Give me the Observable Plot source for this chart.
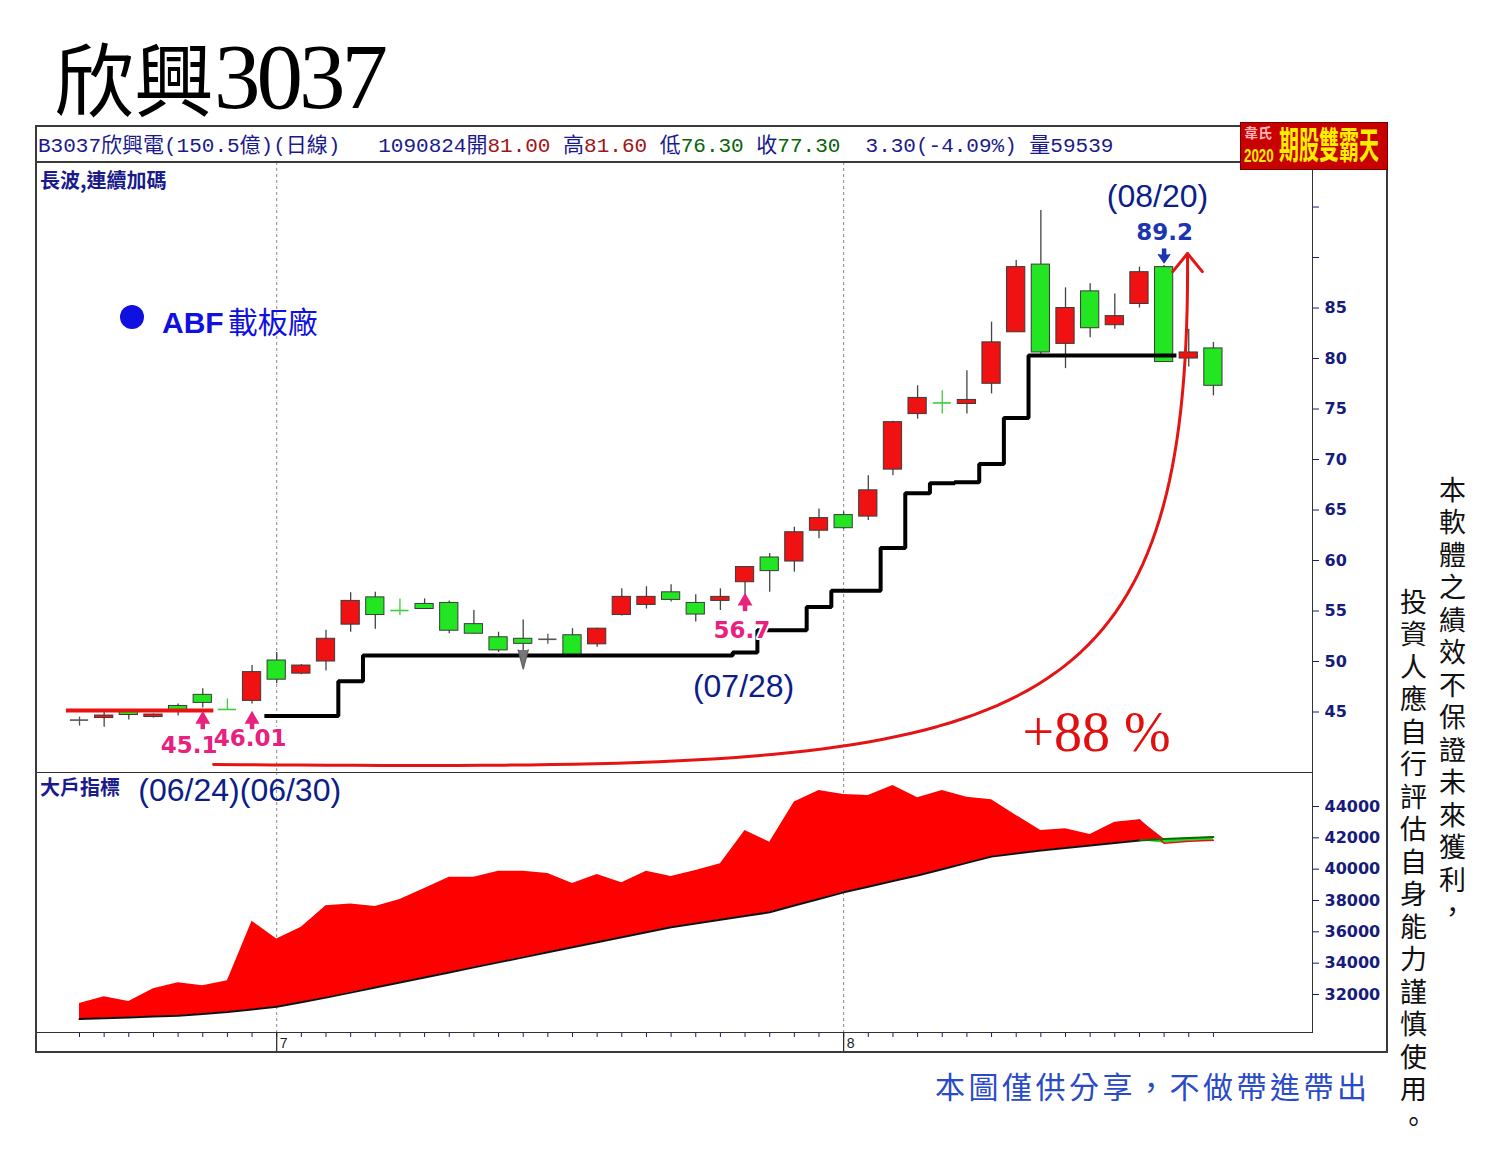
<!DOCTYPE html>
<html><head><meta charset="utf-8">
<script src="https://cdn.jsdelivr.net/npm/d3@7"></script>
<script src="https://cdn.jsdelivr.net/npm/@observablehq/plot@0.6"></script>
<style>
html,body{margin:0;padding:0;background:#fff;}
#page{position:relative;width:1486px;height:1162px;overflow:hidden;background:#fff;font-family:"Noto Sans CJK TC",sans-serif;}
.abs{position:absolute;white-space:nowrap;}
.vt{writing-mode:vertical-rl;font-size:27px;line-height:27px;letter-spacing:5.5px;color:#111;font-family:"Noto Sans CJK TC";}
</style></head>
<body><div id="page">
<div id="plots"></div>
<div class="abs" style="left:35px;top:125px;width:1353px;height:928px;border:2px solid #3a3a3a;box-sizing:border-box;"></div>
<div class="abs" style="left:35px;top:161px;width:1353px;height:2px;background:#3a3a3a;"></div>
<div class="abs" style="left:54px;top:35px;font-size:80px;line-height:80px;color:#000;">欣興</div>
<div class="abs" style="left:214px;top:30px;font-family:'Liberation Serif';font-size:93px;line-height:93px;letter-spacing:-4px;color:#000;">3037</div>
<div class="abs" id="hdr" style="left:38px;top:136px;font-family:'Liberation Mono','Noto Sans CJK TC';font-size:21px;line-height:21px;white-space:pre;color:#1a1a8c;"></div>
<div class="abs" style="left:1240px;top:122px;width:148px;height:48px;background:#c80000;border:1px solid #700;box-sizing:border-box;"></div>
<div class="abs" style="left:1244px;top:125px;font-weight:bold;font-size:14px;line-height:14px;color:#ffb3b3;">韋氏</div>
<div class="abs" style="left:1244px;top:146px;font-family:'Liberation Sans Narrow','Liberation Sans';font-weight:bold;font-size:14px;line-height:14px;color:#ffee00;transform:scale(0.95,1.35);transform-origin:top left;">2020</div>
<div class="abs" style="left:1279px;top:126px;font-weight:bold;font-size:20px;line-height:20px;color:#ffee00;transform:scaleY(1.85);transform-origin:top left;">期股雙霸天</div>
<div class="abs" style="left:40px;top:170px;font-weight:bold;font-size:20px;line-height:20px;color:#1a1a8c;">長波,連續加碼</div>
<div class="abs" style="left:120px;top:305px;width:24px;height:24px;border-radius:50%;background:#1010e0;"></div>
<div class="abs" style="left:162px;top:305px;font-size:30px;line-height:30px;color:#1010e0;"><span style="font-family:'Liberation Sans';font-weight:bold;">ABF</span><span style="margin-left:4px;">載板廠</span></div>
<div class="abs" style="left:40px;top:777px;font-weight:bold;font-size:20px;line-height:20px;color:#1a1a8c;">大戶指標</div>
<div class="abs" style="left:935px;top:1070px;font-size:30px;line-height:30px;letter-spacing:3.5px;color:#2a4ac8;">本圖僅供分享，不做帶進帶出</div>
<div class="abs vt" style="left:1439px;top:476px;">本軟體之績效不保證未來獲利，</div>
<div class="abs vt" style="left:1400px;top:588px;">投資人應自行評估自身能力謹慎使用。</div>
</div>
<script>
// ---------- data ----------
const dates = ["06/17","06/18","06/19","06/22","06/23","06/24","06/29","06/30",
 "07/01","07/02","07/03","07/06","07/07","07/08","07/09","07/10","07/13","07/14","07/15","07/16","07/17",
 "07/20","07/21","07/22","07/23","07/24","07/27","07/28","07/29","07/30","07/31",
 "08/03","08/04","08/05","08/06","08/07","08/10","08/11","08/12","08/13","08/14","08/17","08/18","08/19","08/20","08/21","08/24"];
const open  = [44.2,44.4,45.0,44.5,45.6,46.7,45.25,46.1, 50.1,48.8,50.0,53.65,56.35,55.05,55.7,55.8,53.7,52.4,52.25,52.2,52.6,
 51.7,54.6,55.6,56.85,55.8,56.0,57.85,60.3,59.9,62.95, 64.5,64.35,69.0,74.5,75.6,75.5,77.5,82.6,89.3,81.45,86.65,83.3,85.4,89.05,80.0,81.0];
const high  = [44.5,45.0,45.2,44.8,45.8,47.3,46.3,49.6, 50.9,49.7,53.1,56.8,56.85,56.2,56.2,56.0,55.05,52.9,54.1,52.7,53.25,
 53.3,57.2,57.4,57.6,56.6,57.2,59.4,60.7,63.3,65.1, 64.8,68.4,73.8,77.3,76.8,78.8,83.6,89.7,94.65,87.0,87.4,86.4,89.05,89.2,82.9,81.6];
const low   = [43.6,43.5,44.2,44.4,44.6,45.4,45.25,45.8, 47.8,48.7,49.05,52.9,53.2,54.55,55.2,52.75,52.7,50.9,50.9,51.7,50.6,
 51.4,54.5,55.2,55.9,53.9,55.05,56.6,56.85,58.85,62.15, 63.1,63.95,68.4,74.0,74.5,74.5,76.5,82.6,80.3,79.0,82.05,82.9,85.0,79.6,79.15,76.3];
const close = [44.2,44.65,44.7,44.75,45.1,45.9,45.25,48.95, 48.2,49.6,52.25,56.0,54.6,55.05,55.2,53.05,52.75,51.1,51.75,52.2,50.6,
 53.25,56.4,56.4,56.1,54.65,56.4,59.35,58.95,62.8,64.2, 63.2,66.95,73.7,76.1,75.6,75.9,81.6,89.05,80.6,85.0,83.0,84.2,88.55,79.65,80.6,77.3];
const volume = 59539;
const flatDoji = [0, 19];
const downDoji = [6, 13, 35];
const stopLine = [null,null,null,null,null,null,null,null,
 44.6,44.6,44.6,48.05, 50.6,50.6,50.6,50.6,50.6,50.6,50.6,50.6,50.6,50.6,50.6,50.6,50.6,50.6,50.6,
 50.9,53.1,53.1,55.4,57.0,57.0,61.25,66.65,67.65,67.75,69.55,74.1, 80.3,80.3,80.3,80.3,80.3,80.3, null,null];
const boxLevel = 45.15, boxFrom = 0, boxTo = 5;
const bigHolder = [31430,31860,31560,32370,32750,32560,32880,36670, 35550,36290,37670,37780,37610,38060,38760,39480,39480,39870,39870,39720,39080,
 39660,39140,39870,39530,39910,40340,42470,41720,44280,45020, 44770,44700,45340,44560,45020,44590,44430,43430,42470,42580,42210,43000,43150,41650,41780,41850];
const bigHolderMA = [30430,30480,30530,30590,30650,30760,30880,31040, 31220,31500,31800,32120,32450,32770,33090,33410,33730,34050,34370,34690,35010,
 35330,35650,35970,36290,36530,36770,37010,37250,37680,38100, 38520,38880,39240,39590,39990,40400,40800,41000,41190,41350,41510,41670,41830,41930,41990,42060];
const priceTicks = [45,50,55,60,65,70,75,80,85,90,95];
const priceLabels = [45,50,55,60,65,70,75,80,85];
const flowTicks = [32000,34000,36000,38000,40000,42000,44000];
// annotations (index, value)
const upArrows = [{i:5,p:44.65},{i:7,p:44.65},{i:27,p:56.34}];
const downArrows = [{i:44,p:89.5}];
const signalLabels = [{i:3.30,p:41.68,text:"45.1"},{i:5.45,p:42.38,text:"46.01"},{i:25.72,p:53.07,text:"56.7"}];
const dateNotes = [{i:43.73,p:96.04,text:"(08/20)"},{i:26.94,p:47.52,text:"(07/28)"}];
const peakNote = [{i:44.02,p:92.48,text:"89.2"}];
const gainNote = [{i:41.26,p:42.87,text:"+88 %"}];
const sellMark = [{i:18,p:51.15}];
const flowNotes = [{i:6.5,v:45021,text:"(06/24)(06/30)"}];
const arrowCtrl = [{i:5.44,p:39.8},{i:37.36,p:39.3},{i:45.1,p:39.0},{i:44.95,p:90.4}];
const arrowWing = {di: 0.6, dp: 1.8};

// ---------- header ----------
{
  const n = dates.length - 1;
  const chg = close[n] - close[n-1];
  const pct = chg / close[n-1] * 100;
  document.getElementById("hdr").innerHTML =
    `B3037欣興電(150.5億)(日線)   1090824開<span style="color:#a01414">${open[n].toFixed(2)}</span> 高<span style="color:#a01414">${high[n].toFixed(2)}</span> 低<span style="color:#0a640a">${low[n].toFixed(2)}</span> 收<span style="color:#0a640a">${close[n].toFixed(2)}</span>  ${Math.abs(chg).toFixed(2)}(${pct.toFixed(2)}%) 量${volume}`;
}

// ---------- derived tables ----------
const idx = d3.range(dates.length);
const candles = idx.map(i => ({i, o: open[i], h: high[i], l: low[i], c: close[i],
  kind: flatDoji.includes(i) ? "flat" : downDoji.includes(i) ? "dojiDown" : (close[i] >= open[i] ? "up" : "down")}));
const bodyColor = {up: "#f01212", down: "#22e622"};
const wickColor = {up: "#444", down: "#444", flat: "#555", dojiDown: "#3ccf3c"};
const bodies = candles.filter(d => d.kind === "up" || d.kind === "down");
const dojis = candles.filter(d => d.kind === "flat" || d.kind === "dojiDown");
const stopPts = [];
idx.forEach(i => { if (stopLine[i] != null) { stopPts.push({x: i - 0.5, p: stopLine[i]}, {x: i + 0.5, p: stopLine[i]}); } });
const monthStarts = [];
dates.forEach((d, i) => { if (i > 0 && d.slice(0,2) !== dates[i-1].slice(0,2)) monthStarts.push({i, label: String(+d.slice(0,2))}); });
const flow = idx.map(i => ({i, v: bigHolder[i], ma: bigHolderMA[i]}));
const crossAt = flow.findIndex((d, k) => k > 0 && d.v < d.ma && flow[k-1].v >= flow[k-1].ma);
const flowTail = flow.slice(crossAt - 1);
const [P0, C1, C2, P1] = arrowCtrl;
const curvePts = d3.range(0, 81).map(k => {
  const t = k / 80, a = (1-t)**3, b = 3*(1-t)**2*t, c = 3*(1-t)*t*t, e = t**3;
  return {i: a*P0.i + b*C1.i + c*C2.i + e*P1.i, p: a*P0.p + b*C1.p + c*C2.p + e*P1.p};
});
const headPts = [{i: P1.i - arrowWing.di, p: P1.p - arrowWing.dp}, {i: P1.i, p: P1.p}, {i: P1.i + arrowWing.di, p: P1.p - arrowWing.dp}];

// ---------- scales ----------
const W = 1353;
const xDomain = [-1.785, 50.02];
const mainY = [39.01, 99.41];
const lowY = [29574, 46170];
const lowUnit = (lowY[1] - lowY[0]) / 260;
const pink = "#e8207e", navy = "#161b7c", blue = "#1b36b0";
const baseStyle = {background: "transparent", fontFamily: "DejaVu Sans", fontSize: "16px", fontWeight: "bold", color: navy, overflow: "visible"};

const main = Plot.plot({
  width: W, height: 610, marginTop: 0, marginBottom: 0, marginLeft: 0, marginRight: 76,
  x: {type: "linear", domain: xDomain, axis: null},
  y: {type: "linear", domain: mainY, axis: "right", ticks: priceTicks, tickFormat: d => priceLabels.includes(d) ? String(d) : "", tickSize: 6, tickPadding: 6, label: null},
  style: baseStyle,
  marks: [
    Plot.ruleX(monthStarts, {x: "i", stroke: "#8a8a8a", strokeDasharray: "3,3"}),
    Plot.ruleX(candles, {x: "i", y1: "l", y2: "h", stroke: d => wickColor[d.kind], strokeWidth: 1.3}),
    Plot.rect(bodies, {x1: d => d.i - 0.37, x2: d => d.i + 0.37, y1: "o", y2: "c", fill: d => bodyColor[d.kind], stroke: "#3a3a3a", strokeWidth: 1}),
    Plot.ruleY(dojis, {y: "c", x1: d => d.i - 0.37, x2: d => d.i + 0.37, stroke: d => wickColor[d.kind], strokeWidth: 1.6}),
    Plot.ruleY([{p: boxLevel, a: boxFrom - 0.53, b: boxTo + 0.45}], {y: "p", x1: "a", x2: "b", stroke: "#ee1111", strokeWidth: 4}),
    Plot.line(stopPts, {x: "x", y: "p", stroke: "#000", strokeWidth: 4, strokeLinejoin: "miter", strokeLinecap: "butt"}),
    Plot.vector(sellMark, {x: "i", y: "p", length: 19, rotate: 180, anchor: "start", shape: "spike", r: 5, fill: "#777", stroke: "#666"}),
    Plot.link(upArrows, {x1: "i", x2: "i", y1: d => d.p - 0.75, y2: d => d.p - 1.35, stroke: pink, strokeWidth: 4.5}),
    Plot.dot(upArrows, {x: "i", y: d => d.p - 0.38, symbol: "triangle", r: 5.5, fill: pink, stroke: "none"}),
    Plot.link(downArrows, {x1: "i", x2: "i", y1: d => d.p + 0.75, y2: d => d.p + 1.4, stroke: blue, strokeWidth: 4.5}),
    Plot.vector(downArrows, {x: "i", y: "p", length: 8, rotate: 180, anchor: "end", shape: "spike", r: 5.5, fill: blue, stroke: blue}),
    Plot.text(signalLabels, {x: "i", y: "p", text: "text", textAnchor: "start", fontFamily: "DejaVu Sans", fontWeight: "bold", fontSize: 23, fill: pink, stroke: "white", strokeWidth: 4, paintOrder: "stroke"}),
    Plot.text(dateNotes, {x: "i", y: "p", text: "text", fontFamily: "Liberation Sans", fontWeight: "normal", fontSize: 32, fill: "#0c1e8a"}),
    Plot.text(peakNote, {x: "i", y: "p", text: "text", fontFamily: "DejaVu Sans", fontWeight: "bold", fontSize: 23, fill: blue}),
    Plot.text(gainNote, {x: "i", y: "p", text: "text", fontFamily: "Liberation Serif", fontWeight: "normal", fontSize: 56, fill: "#e01010"}),
    Plot.line(curvePts, {x: "i", y: "p", stroke: "#e41414", strokeWidth: 3}),
    Plot.line(headPts, {x: "i", y: "p", stroke: "#e41414", strokeWidth: 3, strokeLinejoin: "miter"}),
    Plot.frame({stroke: "#333"})
  ]
});

const lower = Plot.plot({
  width: W, height: 281, marginTop: 0, marginBottom: 21, marginLeft: 0, marginRight: 76,
  x: {type: "linear", domain: xDomain, axis: "bottom", ticks: idx, tickFormat: () => "", tickSize: 5, label: null},
  y: {type: "linear", domain: lowY, axis: "right", ticks: flowTicks, tickFormat: d => String(d), tickSize: 6, tickPadding: 6, label: null},
  style: baseStyle,
  marks: [
    Plot.ruleX(monthStarts, {x: "i", stroke: "#8a8a8a", strokeDasharray: "3,3"}),
    Plot.areaY(flow, {x: "i", y1: "ma", y2: d => Math.max(d.v, d.ma), fill: "#ff0000"}),
    Plot.areaY(flow, {x: "i", y1: d => Math.min(d.v, d.ma), y2: "ma", fill: "#22dd22"}),
    Plot.line(flow.slice(0, crossAt), {x: "i", y: "ma", stroke: "#111", strokeWidth: 2}),
    Plot.line(flowTail, {x: "i", y: "ma", stroke: "#0a6a0a", strokeWidth: 2}),
    Plot.line(flowTail, {x: "i", y: "v", stroke: "#e01010", strokeWidth: 1.5}),
    Plot.ruleX(monthStarts, {x: "i", y1: lowY[0], y2: lowY[0] - 21 * lowUnit, stroke: "#222", strokeWidth: 1.2}),
    Plot.text(monthStarts, {x: "i", y: lowY[0] - 11 * lowUnit, text: "label", textAnchor: "start", dx: 3, fontFamily: "Liberation Sans", fontWeight: "normal", fontSize: 14, fill: "#222"}),
    Plot.text(flowNotes, {x: "i", y: "v", text: "text", fontFamily: "Liberation Sans", fontWeight: "normal", fontSize: 32, fill: "#0c1e8a"}),
    Plot.frame({stroke: "#333"})
  ]
});

const host = document.getElementById("plots");
[[main, 162], [lower, 772]].forEach(([svg, top]) => {
  svg.style.position = "absolute";
  svg.style.left = "35px";
  svg.style.top = top + "px";
  svg.style.maxWidth = "none";
  host.appendChild(svg);
});
</script>
</body></html>
